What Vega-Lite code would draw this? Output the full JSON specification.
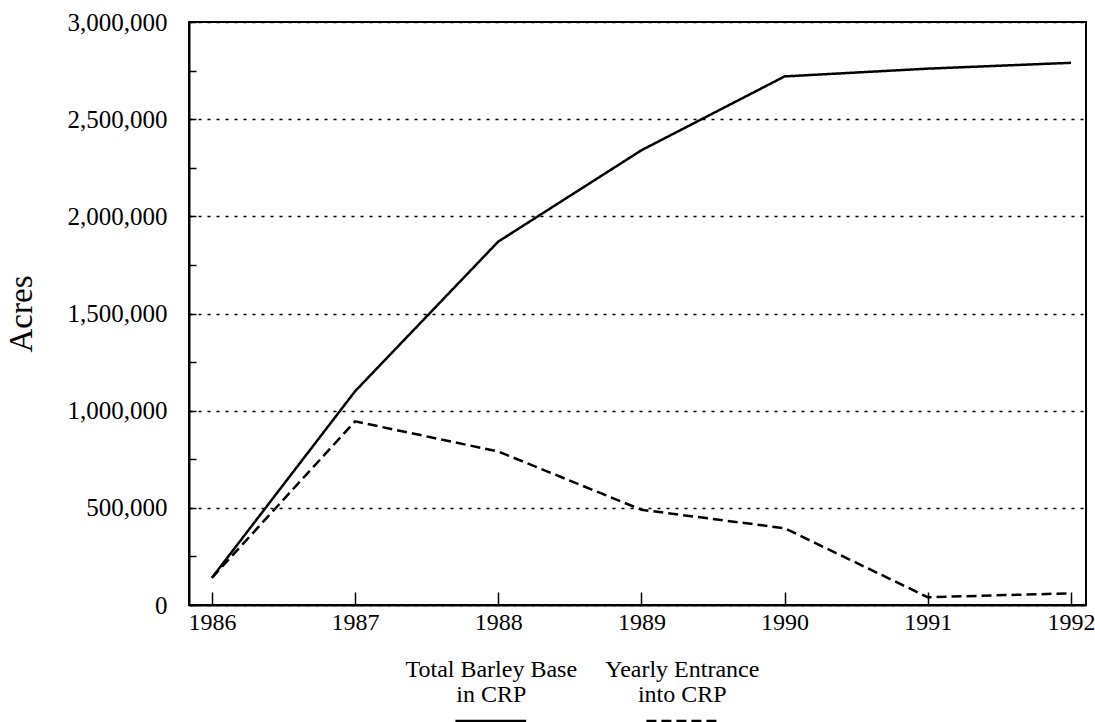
{
  "$schema": "https://vega.github.io/schema/vega-lite/v6.json",
  "autosize": {"type": "pad"},
  "padding": {"left": 4, "top": 9, "right": 0, "bottom": 0},
  "background": "white",
  "bounds": "flush",
  "spacing": 111,
  "config": {
    "font": "Liberation Serif",
    "axis": {"labelFont": "Liberation Serif", "titleFont": "Liberation Serif", "labelColor": "black", "titleColor": "black", "domainColor": "black", "tickColor": "black"}
  },
  "datasets": {
    "acres": [
      {"year": 1986, "series": "Total Barley Base in CRP", "acres": 140000},
      {"year": 1987, "series": "Total Barley Base in CRP", "acres": 1100000},
      {"year": 1988, "series": "Total Barley Base in CRP", "acres": 1870000},
      {"year": 1989, "series": "Total Barley Base in CRP", "acres": 2340000},
      {"year": 1990, "series": "Total Barley Base in CRP", "acres": 2720000},
      {"year": 1991, "series": "Total Barley Base in CRP", "acres": 2760000},
      {"year": 1992, "series": "Total Barley Base in CRP", "acres": 2790000},
      {"year": 1986, "series": "Yearly Entrance into CRP", "acres": 140000},
      {"year": 1987, "series": "Yearly Entrance into CRP", "acres": 945000},
      {"year": 1988, "series": "Yearly Entrance into CRP", "acres": 790000},
      {"year": 1989, "series": "Yearly Entrance into CRP", "acres": 490000},
      {"year": 1990, "series": "Yearly Entrance into CRP", "acres": 395000},
      {"year": 1991, "series": "Yearly Entrance into CRP", "acres": 40000},
      {"year": 1992, "series": "Yearly Entrance into CRP", "acres": 60000}
    ],
    "legend": [
      {"series": "Total Barley Base in CRP"},
      {"series": "Yearly Entrance into CRP"}
    ]
  },
  "vconcat": [
    {
      "width": 897,
      "height": 583,
      "view": {"stroke": "black", "strokeWidth": 2},
      "data": {"name": "acres"},
      "mark": {"type": "line", "color": "black", "strokeWidth": 2.5},
      "encoding": {
        "x": {
          "field": "year", "type": "quantitative",
          "scale": {"domain": [1985.84, 1992.105], "nice": false, "zero": false},
          "axis": {
            "values": [1986, 1987, 1988, 1989, 1990, 1991, 1992],
            "format": "d", "title": null, "grid": false,
            "labelFontSize": 24, "labelPadding": 18, "tickSize": -13, "tickWidth": 1.5,
            "domainWidth": 2, "labelFlush": false
          }
        },
        "y": {
          "field": "acres", "type": "quantitative",
          "scale": {"domain": [0, 3000000], "nice": false},
          "axis": {
            "values": [0, 250000, 500000, 750000, 1000000, 1250000, 1500000, 1750000, 2000000, 2250000, 2500000, 2750000, 3000000],
            "labelExpr": "datum.value % 500000 === 0 ? datum.label : ''",
            "format": ",d",
            "title": "Acres", "titleFontSize": 33, "titleFontWeight": "normal", "titlePadding": 29,
            "labelFontSize": 25, "labelPadding": 29, "tickSize": -7, "tickWidth": 1.5,
            "domainWidth": 2,
            "grid": true, "gridColor": "black", "gridDash": [3, 6], "gridWidth": 1.5,
            "gridOpacity": {"condition": {"test": "datum.value % 500000 === 0", "value": 1}, "value": 0}
          }
        },
        "strokeDash": {
          "field": "series", "type": "nominal",
          "scale": {"domain": ["Total Barley Base in CRP", "Yearly Entrance into CRP"], "range": [[1, 0], [10, 5]]},
          "legend": null
        }
      }
    },
    {
      "width": 573,
      "height": 10,
      "view": {"stroke": null},
      "data": {"name": "legend"},
      "mark": {"type": "point", "shape": "M-1,0L1,0", "size": 5000, "color": "black", "strokeWidth": 2.5, "filled": false, "opacity": 1},
      "encoding": {
        "x": {
          "field": "series", "type": "nominal",
          "scale": {"type": "point", "padding": 1, "align": 0.79},
          "sort": ["Total Barley Base in CRP", "Yearly Entrance into CRP"],
          "axis": {
            "orient": "top", "title": null, "domain": false, "ticks": false, "labelAngle": 0,
            "labelFontSize": 24, "labelLineHeight": 25, "labelPadding": 35,
            "labelExpr": "datum.label == 'Total Barley Base in CRP' ? ['Total Barley Base', 'in CRP'] : ['Yearly Entrance', 'into CRP']"
          }
        },
        "strokeDash": {
          "field": "series", "type": "nominal",
          "scale": {"domain": ["Total Barley Base in CRP", "Yearly Entrance into CRP"], "range": [[1, 0], [10, 5]]},
          "legend": null
        }
      }
    }
  ]
}
